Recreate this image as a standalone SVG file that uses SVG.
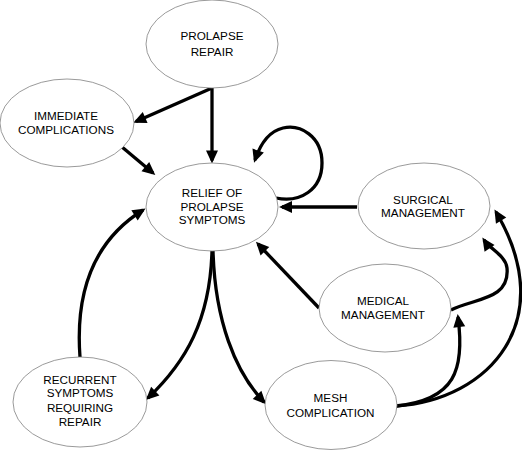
<svg xmlns="http://www.w3.org/2000/svg" width="522" height="450" viewBox="0 0 522 450">
<style>
.node ellipse{fill:#fff;stroke:#808080;stroke-width:0.8}
.node text{font-family:"Liberation Sans",Arial,sans-serif;font-size:11.7px;fill:#000;text-anchor:middle}
#connectors path{fill:none;stroke:#000;stroke-width:3.3;marker-end:url(#ah)}
</style>
<defs>
<marker id="ah" markerUnits="userSpaceOnUse" markerWidth="14" markerHeight="13" refX="10" refY="6" orient="auto" overflow="visible">
<path d="M0,0 L13,6 L0,12 z" fill="#000"/>
</marker>
</defs>
<rect width="522" height="450" fill="#fff"/>
<g id="connectors">
<path d="M212,88 L136,121.5"/>
<path d="M212,88 L212,160.5"/>
<path d="M122,147 L153,173"/>
<path d="M276,198 C300,203 322,190 322,163 C322,136 300,124 283,128 C270,131 261,142 255,160"/>
<path d="M357,207 L282,207"/>
<path d="M319,308 L258,244"/>
<path d="M212,251 C210,320 186,362 148,398"/>
<path d="M213,251 C215,320 235,372 264,402"/>
<path d="M80,357 C75,290 95,240 143,210"/>
<path d="M396,406 C455,400 465,370 458,317"/>
<path d="M396,406 C490,400 560,320 496,212"/>
<path d="M451,310 C475,298 510,300 507,268 C506,256 490,249 484,240"/>
</g>
<g id="prolapse-repair" class="node">
<ellipse cx="212" cy="44" rx="66" ry="44"/>
<text x="212" y="40">PROLAPSE</text>
<text x="212" y="56">REPAIR</text>
</g>
<g id="immediate-complications" class="node">
<ellipse cx="67" cy="123" rx="67" ry="44"/>
<text x="66" y="120">IMMEDIATE</text>
<text x="66" y="134">COMPLICATIONS</text>
</g>
<g id="relief" class="node">
<ellipse cx="212" cy="207" rx="66" ry="44"/>
<text x="212" y="197">RELIEF OF</text>
<text x="212" y="211">PROLAPSE</text>
<text x="212" y="224">SYMPTOMS</text>
</g>
<g id="surgical-management" class="node">
<ellipse cx="424" cy="206" rx="66" ry="43"/>
<text x="423" y="204">SURGICAL</text>
<text x="423" y="217">MANAGEMENT</text>
</g>
<g id="medical-management" class="node">
<ellipse cx="385" cy="308" rx="66" ry="44"/>
<text x="383" y="305">MEDICAL</text>
<text x="383" y="319">MANAGEMENT</text>
</g>
<g id="mesh-complication" class="node">
<ellipse cx="331" cy="405" rx="66" ry="44.5"/>
<text x="330.5" y="402">MESH</text>
<text x="330.5" y="417">COMPLICATION</text>
</g>
<g id="recurrent-symptoms" class="node">
<ellipse cx="80" cy="402" rx="67" ry="45"/>
<text x="80" y="384">RECURRENT</text>
<text x="80" y="397">SYMPTOMS</text>
<text x="80" y="412">REQUIRING</text>
<text x="80" y="426">REPAIR</text>
</g>
</svg>
